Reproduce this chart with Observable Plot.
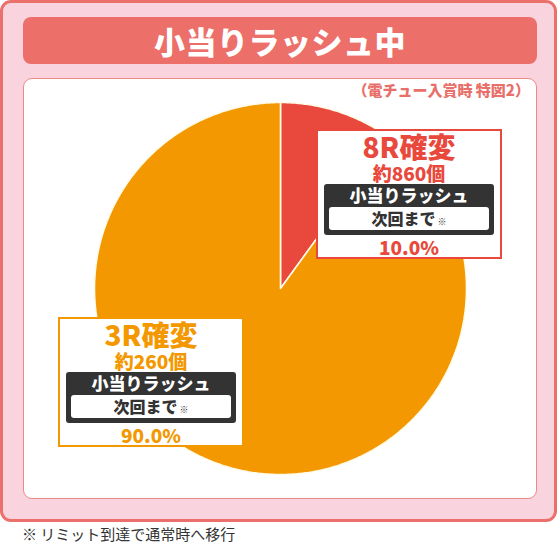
<!DOCTYPE html>
<html>
<head>
<meta charset="utf-8">
<script src="https://cdn.jsdelivr.net/npm/d3@7"></script>
<script src="https://cdn.jsdelivr.net/npm/@observablehq/plot@0.6"></script>
<style>
  html, body { margin: 0; padding: 0; background: #fff; }
  body { width: 560px; height: 543px; position: relative; overflow: hidden;
         font-family: "Noto Sans CJK JP", "Noto Sans", sans-serif; }
  .abs { position: absolute; }
  #outer { left: 0; top: 0; width: 557px; height: 522px; box-sizing: border-box;
           background: #f9d3de; border: 3px solid #eb6f6b; border-radius: 11px; }
  #banner { left: 23px; top: 17px; width: 514px; height: 47px; background: #ec6f6a;
            border-radius: 8px; color: #fff; font-weight: 900; font-size: 31px;
            line-height: 47px; text-align: center; letter-spacing: 0.5px; }
  #inner { left: 23px; top: 78px; width: 514px; height: 421px; box-sizing: border-box;
           background: #fff; border: 1px solid #ee8a85; border-radius: 9px; }
  #sub { right: 30px; top: 81px; font-size: 15px; font-weight: 900; color: #e8706a;
         line-height: 18px; white-space: nowrap; }
  #foot { left: 22px; top: 526px; font-size: 15px; color: #333; line-height: 16px; white-space: nowrap; }
  #plot { left: 0; top: 0; }
  .lbl { position: absolute; width: 186px; height: 130px; box-sizing: border-box;
         background: #fff; border: 2px solid; }
  .ln { position: absolute; left: 0; width: 100%; text-align: center; font-weight: 900; white-space: nowrap; }
  .dark { position: absolute; left: 6px; top: 53px; width: 170px; height: 51px; background: #333;
          border-radius: 3px; }
  .wbox { position: absolute; left: 5px; top: 23px; width: 160px; height: 23px; background: #fff;
          border-radius: 3px; }
</style>
</head>
<body>
<div id="outer" class="abs"></div>
<div id="banner" class="abs">小当りラッシュ中</div>
<div id="inner" class="abs"></div>
<div id="sub" class="abs">（電チュー入賞時 特図2）</div>
<div id="plot" class="abs"></div>
<div id="labels"></div>
<div id="foot" class="abs">※ リミット到達で通常時へ移行</div>
<script>
// ---- data ----
const categories = ["8R確変", "3R確変"];
const shares = [10.0, 90.0];               // percent
const payouts = ["約860個", "約260個"];
const rushText = ["小当りラッシュ", "小当りラッシュ"];
const untilText = ["次回まで", "次回まで"];
const colors = ["#e9493c", "#f39800"];

// ---- build slice outlines from the shares ----
const total = d3.sum(shares);
let acc = 0;
const slices = categories.map((c, i) => {
  const a0 = acc / total * 2 * Math.PI;
  acc += shares[i];
  const a1 = acc / total * 2 * Math.PI;
  const n = Math.max(2, Math.ceil((a1 - a0) / (Math.PI / 360)));
  const pts = [{x: 0, y: 0}];
  for (let k = 0; k <= n; k++) {
    const a = a0 + (a1 - a0) * k / n;
    pts.push({x: Math.sin(a), y: Math.cos(a)});
  }
  pts.push({x: 0, y: 0});
  return {category: c, color: colors[i], pts};
});

// pie centre (280,288), radius 186 px on a 560x543 svg
const R = 186, cx = 280, cy = 288, W = 560, H = 543;
const chart = Plot.plot({
  width: W, height: H,
  margin: 0, marginTop: 0, marginRight: 0, marginBottom: 0, marginLeft: 0,
  x: {domain: [-cx / R, (W - cx) / R], axis: null},
  y: {domain: [-(H - cy) / R, cy / R], axis: null},
  style: {background: "transparent", overflow: "visible"},
  marks: slices.map(s => Plot.line(s.pts, {
    x: "x", y: "y", fill: s.color, stroke: "#fffbe8", strokeWidth: 1.6,
    strokeLinejoin: "miter", curve: "linear"
  }))
});
document.getElementById("plot").appendChild(chart);

// ---- label boxes ----
const boxPos = [{left: 316, top: 129}, {left: 58, top: 317}];
const labels = document.getElementById("labels");
categories.forEach((c, i) => {
  const b = document.createElement("div");
  b.className = "lbl";
  b.style.left = boxPos[i].left + "px";
  b.style.top = boxPos[i].top + "px";
  b.style.borderColor = colors[i];
  b.innerHTML = `
    <div class="ln" style="top:1px;font-size:28px;line-height:28px;color:${colors[i]}">${c}</div>
    <div class="ln" style="top:32px;font-size:19px;line-height:20px;color:${colors[i]}">${payouts[i]}</div>
    <div class="dark">
      <div class="ln" style="top:1px;font-size:17px;line-height:20px;color:#fff">${rushText[i]}</div>
      <div class="wbox">
        <div class="ln" style="top:1px;font-size:16px;line-height:21px;color:#333">${untilText[i]}<span style="font-size:9px;margin-left:2px">※</span></div>
      </div>
    </div>
    <div class="ln" style="top:106px;font-size:19px;line-height:20px;color:${colors[i]}">${shares[i].toFixed(1)}%</div>`;
  labels.appendChild(b);
});
</script>
</body>
</html>
